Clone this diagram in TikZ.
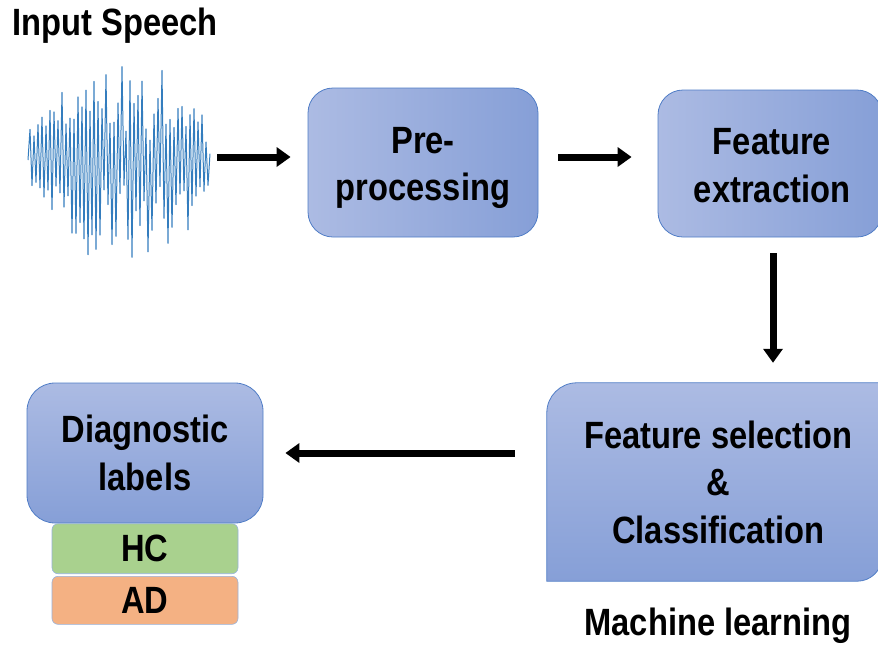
\documentclass[tikz,border=0pt]{standalone}
\usepackage{fontspec}
\setmainfont{Liberation Sans}
\newfontfamily\labfont[FakeStretch=0.86]{Liberation Sans}
\usetikzlibrary{arrows.meta,backgrounds}
\definecolor{boxL}{RGB}{172,187,227}
\definecolor{boxR}{RGB}{134,159,215}
\definecolor{boxB}{RGB}{80,125,198}
\definecolor{hcfill}{RGB}{169,209,142}
\definecolor{adfill}{RGB}{244,177,131}
\definecolor{wavecol}{RGB}{52,125,190}
\tikzset{
  lab/.style={font=\labfont\bfseries\fontsize{38}{47.5}\selectfont, align=center, text=black},
  hbox/.style={lab, draw=boxB, line width=0.8pt, left color=boxL, right color=boxR, rounded corners=25pt},
  vbox/.style={lab, draw=boxB, line width=0.8pt, top color=boxL, bottom color=boxR, rounded corners=28pt},
  tag/.style={lab, draw=boxB!60, line width=0.6pt, rounded corners=6pt, minimum width=186pt},
  arr/.style={line width=7pt, -{Triangle[length=14pt,width=19pt]}, black},
}
\begin{document}
\begin{tikzpicture}[x=1pt,y=-1pt]
\useasboundingbox (0,0) rectangle (878,646);
\clip (0,0) rectangle (878,646);
% title
\node[lab] (title) at (115,26) {Input Speech};
% waveform
\pgfmathsetseed{5}
\draw[wavecol, line width=1pt, line join=round] (28,160)
  \foreach \i in {1,...,91} { -- ({28+2*\i},{160 + (1-2*mod(\i,2))*(38+60*sin(\i/91*180))*(0.3+0.7*rnd) + 12*sin(\i*37)}) };
\node[inner sep=0, minimum width=182pt, minimum height=215pt] (wave) at (119,160) {};
% boxes
\node[hbox, minimum width=230pt, minimum height=149pt] (pre) at (423,162.5) {\rule{0pt}{37pt}Pre-\\processing};
\node[hbox, minimum width=224pt, minimum height=147pt] (fe) at (770,163.5) {\rule{0pt}{30pt}\hspace*{4pt}Feature\\\hspace*{4pt}extraction};
\node[lab, minimum width=335pt, minimum height=198pt] (fs) at (714.5,482) {\hspace*{8pt}Feature selection\\\hspace*{8pt}\&\\\hspace*{8pt}Classification};
\begin{pgfonlayer}{background}
\shade[top color=boxL, bottom color=boxR, draw=boxB, line width=0.8pt]
  (fs.south west) -- ([yshift=-30pt]fs.north west) arc[start angle=180, end angle=90, radius=30pt]
  -- (fs.north east) -- ([yshift=25pt]fs.south east) arc[start angle=0, end angle=-90, radius=25pt] -- cycle;
\end{pgfonlayer}
\node[lab] (ml) at (718,626) {Machine learning};
\node[vbox, minimum width=236pt, minimum height=140pt] (dl) at (145,453) {Diagnostic\\labels};
\node[tag, fill=hcfill, minimum height=50pt, anchor=north] (hc) at (dl.south) {HC};
\node[tag, fill=adfill, minimum height=48pt, anchor=north] (ad) at ([yshift=-2pt]hc.south) {AD};
% arrows
\coordinate (a1) at ([yshift=3pt]wave.east);
\coordinate (a2) at ([yshift=5.5pt]pre.east);
\draw[arr, shorten <=7pt, shorten >=17pt] (a1) -- (pre.west |- a1);
\draw[arr, shorten <=20pt, shorten >=26pt] (a2) -- (fe.west |- a2);
\draw[arr, shorten <=16pt, shorten >=20pt] ([xshift=3pt]fe.south) -- ([xshift=3pt]fe.south |- fs.north);
\draw[arr, shorten <=32pt, shorten >=22pt] (fs.west |- dl.east) -- (dl.east);
\end{tikzpicture}
\end{document}
